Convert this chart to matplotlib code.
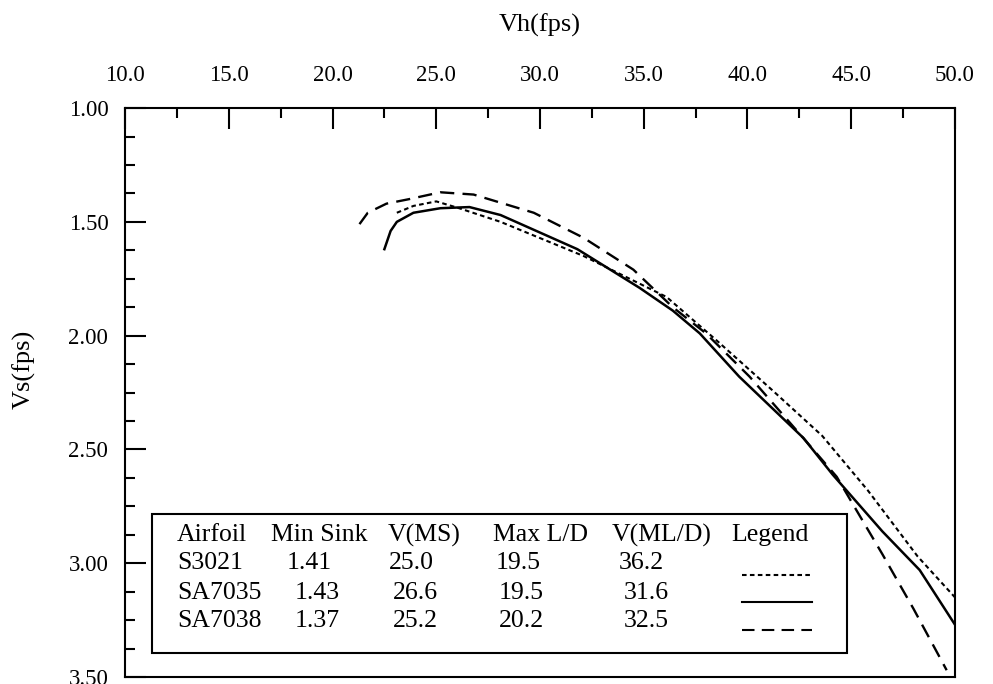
import matplotlib.pyplot as plt
from matplotlib.patches import Rectangle
from matplotlib.lines import Line2D
from matplotlib.ticker import MultipleLocator, FormatStrFormatter

plt.rcParams["font.family"] = ["Liberation Serif", "DejaVu Serif"]

# polar curves: horizontal speed (fps) vs sink speed (fps)
s3021_vh = [23.1, 23.9, 25.0, 26.1, 28.1, 32.1, 36.1, 38.5, 41.2, 43.6, 45.8, 48.2, 50.0]
s3021_vs = [1.46, 1.43, 1.41, 1.44, 1.50, 1.65, 1.83, 2.02, 2.24, 2.44, 2.68, 2.97, 3.15]

sa7035_vh = [22.5, 22.8, 23.1, 23.9, 25.2, 26.6, 28.1, 31.8, 34.8, 36.4, 37.7, 39.6,
             42.7, 44.1, 46.5, 48.3, 50.0]
sa7035_vs = [1.62, 1.54, 1.50, 1.46, 1.44, 1.435, 1.47, 1.62, 1.79, 1.89, 1.99, 2.18,
             2.45, 2.61, 2.86, 3.03, 3.27]

sa7038_vh = [21.3, 21.7, 22.6, 23.7, 25.2, 26.8, 29.7, 32.1, 34.5, 36.4, 38.0, 40.1,
             42.5, 44.3, 46.5, 48.0, 49.6]
sa7038_vs = [1.51, 1.46, 1.42, 1.40, 1.37, 1.38, 1.46, 1.57, 1.71, 1.875, 1.99, 2.18,
             2.43, 2.62, 2.96, 3.20, 3.47]

# summary table
headers = ["Airfoil", "Min Sink", "V(MS)", "Max L/D", "V(ML/D)", "Legend"]
airfoils = ["S3021", "SA7035", "SA7038"]
min_sink = ["1.41", "1.43", "1.37"]
v_ms = ["25.0", "26.6", "25.2"]
max_ld = ["19.5", "19.5", "20.2"]
v_mld = ["36.2", "31.6", "32.5"]

styles = [(0, (2.2, 1.6)), "-", (0, (6, 3.5))]

fig = plt.figure(figsize=(9.93, 6.84), dpi=100)
ax = fig.add_axes([0.1259, 0.0102, 0.8358, 0.8318])

ax.plot(s3021_vh, s3021_vs, color="black", lw=1.5, ls=styles[0])
ax.plot(sa7035_vh, sa7035_vs, color="black", lw=1.8, ls=styles[1])
ax.plot(sa7038_vh, sa7038_vs, color="black", lw=1.7, ls=styles[2])

ax.set_xlim(10, 50)
ax.set_ylim(3.5, 1.0)

ax.xaxis.set_major_locator(MultipleLocator(5))
ax.xaxis.set_minor_locator(MultipleLocator(2.5))
ax.yaxis.set_major_locator(MultipleLocator(0.5))
ax.yaxis.set_minor_locator(MultipleLocator(0.125))
ax.xaxis.set_major_formatter(FormatStrFormatter("%.1f"))
ax.yaxis.set_major_formatter(FormatStrFormatter("%.2f"))

ax.xaxis.tick_top()
ax.xaxis.set_label_position("top")
ax.tick_params(axis="both", which="both", direction="in", width=1.5,
               bottom=False, right=False, labelsize=16.5, colors="black")
ax.tick_params(axis="x", which="both", top=True, pad=16)
ax.tick_params(axis="y", which="both", pad=12)
ax.tick_params(which="major", length=15)
ax.tick_params(which="minor", length=7.5)
for sp in ax.spines.values():
    sp.set_linewidth(1.5)

ax.set_xlabel("Vh(fps)", fontsize=19, labelpad=24)
ax.set_ylabel("Vs(fps)", fontsize=19)
ax.yaxis.set_label_coords(-0.108, 0.54)

# table box inside the axes
ax.add_patch(Rectangle((0.0325, 0.0422), 0.8375, 0.2443, transform=ax.transAxes,
                       fill=False, lw=1.5, ec="black", zorder=3))

fs = 18.5
header_x = [0.0627, 0.1759, 0.3169, 0.4434, 0.5867, 0.7301]
for hx, h in zip(header_x, headers):
    ax.text(hx, 0.2496, h, transform=ax.transAxes, fontsize=fs, va="center", ha="left")

row_y = [0.2004, 0.1476, 0.0984]
col_x = [[0.0627, 0.1952, 0.3181, 0.4470, 0.5952],
         [0.0627, 0.2048, 0.3229, 0.4506, 0.6012],
         [0.0627, 0.2048, 0.3229, 0.4506, 0.6012]]
for i in range(3):
    vals = [airfoils[i], min_sink[i], v_ms[i], max_ld[i], v_mld[i]]
    for cx, v in zip(col_x[i], vals):
        ax.text(cx, row_y[i], v, transform=ax.transAxes, fontsize=fs,
                va="center", ha="left")

sample_y = [0.1793, 0.1318, 0.0826]
for sy, ls in zip(sample_y, styles):
    ax.add_line(Line2D([0.7434, 0.8277], [sy, sy], transform=ax.transAxes,
                       color="black", lw=1.5, ls=ls))

fig.savefig("out.png", dpi=100)
